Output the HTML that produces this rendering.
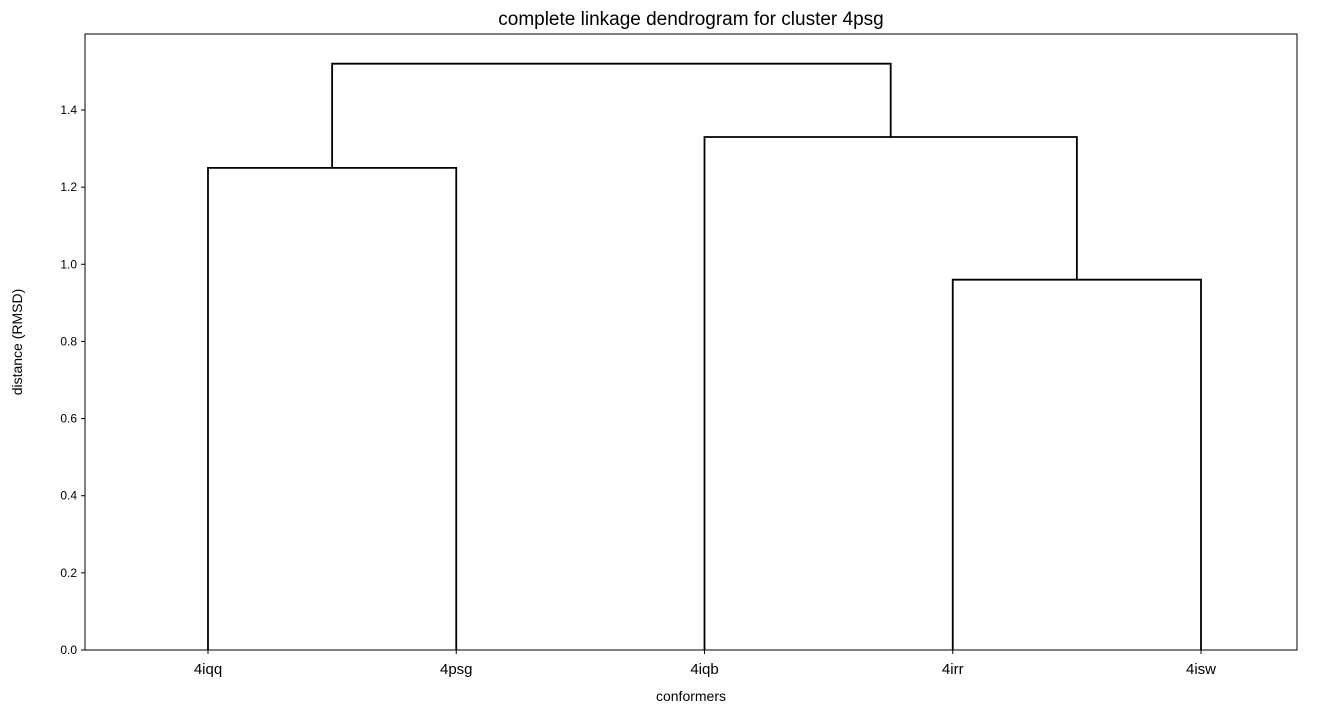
<!DOCTYPE html>
<html><head><meta charset="utf-8">
<style>body{margin:0;background:#fff}svg{display:block;font-family:"Liberation Sans","DejaVu Sans",sans-serif}</style>
</head><body>
<svg id="chart" width="1334" height="714"></svg>
<script>
const leafLabels = ["4iqq","4psg","4iqb","4irr","4isw"];
// merges: [leftNode, rightNode, height]; nodes 0-4 leaves, 5+ merged clusters
const mergeLeft = [3, 0, 2, 7];
const mergeRight = [4, 1, 5, 6];
const mergeHeights = [0.96, 1.25, 1.33, 1.52];
const yTicks = [0.0,0.2,0.4,0.6,0.8,1.0,1.2,1.4];

const NS="http://www.w3.org/2000/svg";
const svg=document.getElementById('chart');
const L=85,R=1297,T=34,B=650;
const yMax=1.597;
const xs=v=>208+(v-5)*24.825;
const ys=v=>B-(v/yMax)*(B-T);
function mk(t,a,txt){const e=document.createElementNS(NS,t);for(const k in a)e.setAttribute(k,a[k]);if(txt!==undefined)e.textContent=txt;svg.appendChild(e);return e;}

const nodeX=leafLabels.map((_,i)=>i*10+5), nodeY=leafLabels.map(()=>0);
for(let i=0;i<mergeHeights.length;i++){
  const a=mergeLeft[i],b=mergeRight[i],h=mergeHeights[i];
  const p=mk('polyline',{points:`${xs(nodeX[a])},${ys(nodeY[a])} ${xs(nodeX[a])},${ys(h)} ${xs(nodeX[b])},${ys(h)} ${xs(nodeX[b])},${ys(nodeY[b])}`,fill:'none',stroke:'#000','stroke-width':1.8});
  
  
  nodeX.push((nodeX[a]+nodeX[b])/2);nodeY.push(h);
}
const frame=mk('rect',{x:L,y:T,width:R-L,height:B-T,fill:'none',stroke:'#000','stroke-width':1});


yTicks.forEach(v=>{
  const y=ys(v);
  mk('line',{x1:L-4,x2:L,y1:y,y2:y,stroke:'#000'});
  const t=mk('text',{x:L-8,y:y+4,'text-anchor':'end','font-size':12},v.toFixed(1));
  
  
});
leafLabels.forEach((s,i)=>{
  const x=xs(i*10+5);
  mk('line',{x1:x,x2:x,y1:B,y2:B+4,stroke:'#000'});
  const t=mk('text',{x:x,y:B+24,'text-anchor':'middle','font-size':15},s);
  
  
});
let t=mk('text',{x:(L+R)/2,y:25,'text-anchor':'middle','font-size':19},'complete linkage dendrogram for cluster 4psg');


t=mk('text',{x:(L+R)/2,y:701,'text-anchor':'middle','font-size':14},'conformers');


t=mk('text',{x:22,y:(T+B)/2,'text-anchor':'middle','font-size':14,transform:`rotate(-90 22 ${(T+B)/2})`},'distance (RMSD)');


</script>
</body></html>
